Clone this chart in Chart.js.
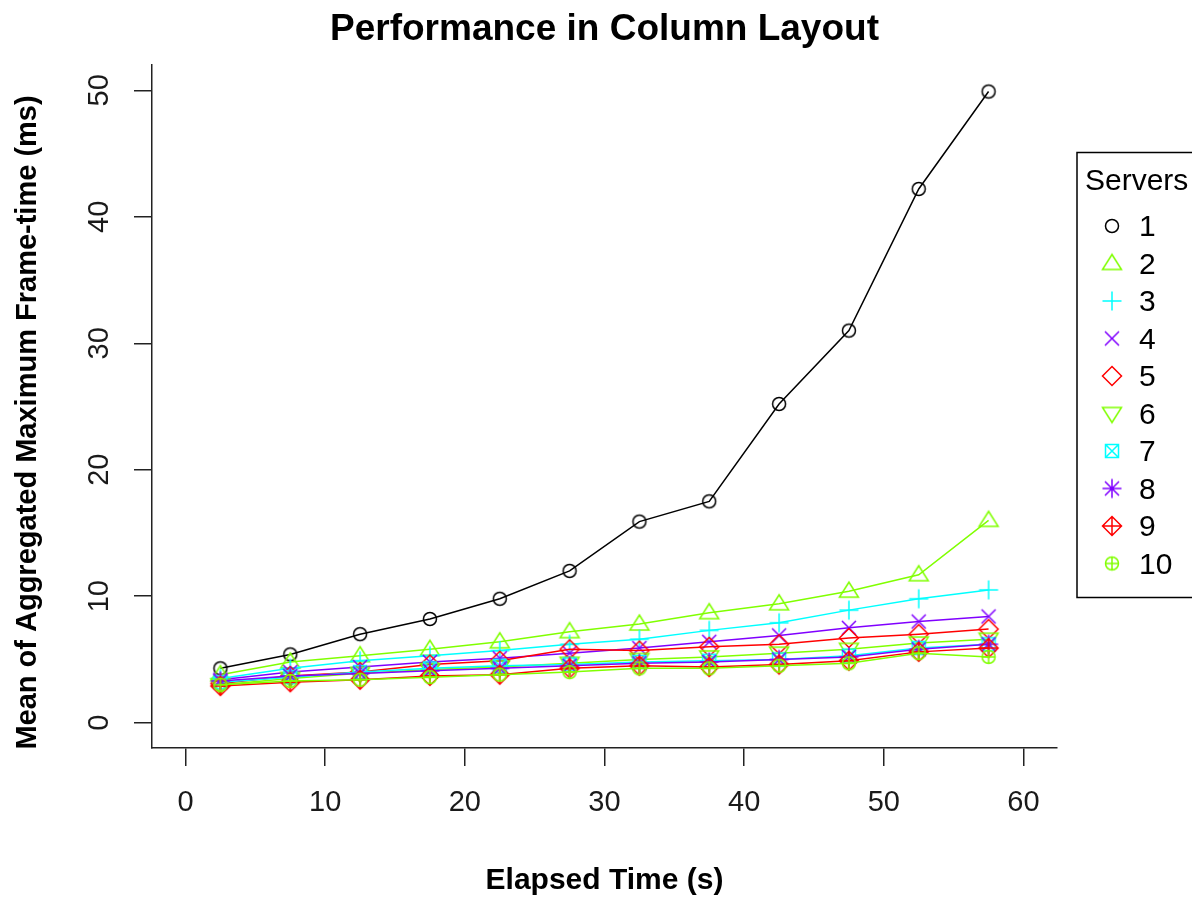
<!DOCTYPE html>
<html>
<head>
<meta charset="utf-8">
<title>Performance in Column Layout</title>
<script src="https://cdn.jsdelivr.net/npm/chart.js@4.4.1/dist/chart.umd.min.js"></script>
<style>
    html, body { margin: 0; padding: 0; background: #fff; }
    #wrap { width: 1192px; height: 898px; }
</style>
</head>
<body>
<div id="wrap"><canvas id="perfChart" width="1192" height="898"></canvas></div>
<script>
// elapsed time (s) of each measurement
const elapsed = [2.5, 7.5, 12.5, 17.5, 22.5, 27.5, 32.5, 37.5, 42.5, 47.5, 52.5, 57.5];
const servers = ['1', '2', '3', '4', '5', '6', '7', '8', '9', '10'];

// mean aggregated max frame-time (ms), one array per server count
const srv1  = [4.3, 5.4, 7.0, 8.2, 9.8, 12.0, 15.9, 17.5, 25.2, 31.0, 42.2, 49.9];
const srv2  = [3.8, 4.8, 5.3, 5.8, 6.4, 7.2, 7.8, 8.7, 9.4, 10.4, 11.7, 16.0];
const srv3  = [3.5, 4.3, 4.9, 5.3, 5.7, 6.2, 6.6, 7.3, 7.9, 8.9, 9.8, 10.5];
const srv4  = [3.4, 4.0, 4.4, 4.8, 5.1, 5.5, 5.9, 6.4, 6.9, 7.5, 8.0, 8.4];
const srv5  = [3.1, 3.7, 4.0, 4.6, 4.9, 5.8, 5.7, 6.0, 6.2, 6.7, 7.0, 7.4];
const srv6  = [3.0, 3.5, 3.9, 4.2, 4.4, 4.7, 5.0, 5.2, 5.5, 5.8, 6.3, 6.6];
const srv7  = [3.2, 3.6, 4.0, 4.3, 4.5, 4.6, 4.8, 4.9, 5.0, 5.3, 5.9, 6.2];
const srv8  = [3.3, 3.7, 3.9, 4.1, 4.3, 4.5, 4.7, 4.8, 5.0, 5.2, 5.8, 6.2];
const srv9  = [2.9, 3.2, 3.4, 3.7, 3.8, 4.3, 4.5, 4.4, 4.6, 4.9, 5.6, 5.9];
const srv10 = [3.0, 3.3, 3.4, 3.6, 3.8, 4.0, 4.3, 4.3, 4.5, 4.7, 5.5, 5.2];
const allSeries = [srv1, srv2, srv3, srv4, srv5, srv6, srv7, srv8, srv9, srv10];

const xTicks = [0, 10, 20, 30, 40, 50, 60];
const yTicks = [0, 10, 20, 30, 40, 50];

const colors = ['#000000', '#80FF00', '#00FFFF', '#8000FF', '#FF0000',
                '#80FF00', '#00FFFF', '#8000FF', '#FF0000', '#80FF00'];
const FONT = '"Liberation Sans", Arial, sans-serif';

// R style plotting symbols (pch 1..10) drawn onto small canvases
function pchSymbol(pch, color) {
    const c = document.createElement('canvas');
    c.width = 26; c.height = 26;
    const g = c.getContext('2d');
    const m = 13;
    g.strokeStyle = color;
    g.lineWidth = 1.5;
    g.beginPath();
    const circle = (r) => { g.moveTo(m + r, m); g.arc(m, m, r, 0, Math.PI * 2); };
    const plus = (r) => { g.moveTo(m - r, m); g.lineTo(m + r, m); g.moveTo(m, m - r); g.lineTo(m, m + r); };
    const cross = (r) => { g.moveTo(m - r, m - r); g.lineTo(m + r, m + r); g.moveTo(m + r, m - r); g.lineTo(m - r, m + r); };
    const diamond = (r) => { g.moveTo(m, m - r); g.lineTo(m + r, m); g.lineTo(m, m + r); g.lineTo(m - r, m); g.closePath(); };
    switch (pch) {
        case 1: circle(6.5); break;
        case 2: g.moveTo(m, m - 9); g.lineTo(m + 9.5, m + 6); g.lineTo(m - 9.5, m + 6); g.closePath(); break;
        case 3: plus(9.5); break;
        case 4: cross(7); break;
        case 5: diamond(9.5); break;
        case 6: g.moveTo(m, m + 9); g.lineTo(m + 9.5, m - 6); g.lineTo(m - 9.5, m - 6); g.closePath(); break;
        case 7: g.rect(m - 6.5, m - 6.5, 13, 13); cross(6.5); break;
        case 8: plus(9.5); cross(7); break;
        case 9: diamond(9.5); plus(9.5); break;
        case 10: circle(6.5); plus(6.5); break;
    }
    g.stroke();
    return c;
}
const symbols = servers.map((s, i) => pchSymbol(i + 1, colors[i]));

// title, axis titles, rotated y labels and the legend box
const rDecor = {
    id: 'rDecor',
    afterDraw(chart) {
        const ctx = chart.ctx;
        const area = chart.chartArea;
        const yScale = chart.scales.y;
        const cx = (area.left + area.right) / 2;
        ctx.save();
        ctx.fillStyle = '#000';
        ctx.textAlign = 'center';
        ctx.textBaseline = 'alphabetic';

        ctx.font = 'bold 37px ' + FONT;
        ctx.fillText('Performance in Column Layout', cx, 40);

        ctx.font = 'bold 30px ' + FONT;
        ctx.fillText('Elapsed Time (s)', cx, 889);

        ctx.font = 'bold 29px ' + FONT;
        ctx.save();
        ctx.translate(36, (area.top + area.bottom) / 2 + 16);
        ctx.rotate(-Math.PI / 2);
        ctx.fillText('Mean of Aggregated Maximum Frame-time (ms)', 0, 0);
        ctx.restore();

        // y tick labels, parallel to the axis like R
        ctx.font = '29px ' + FONT;
        ctx.fillStyle = '#1a1a1a';
        yTicks.forEach(v => {
            ctx.save();
            ctx.translate(108, yScale.getPixelForValue(v));
            ctx.rotate(-Math.PI / 2);
            ctx.fillText(String(v), 0, 0);
            ctx.restore();
        });

        // legend
        ctx.strokeStyle = '#000';
        ctx.lineWidth = 1.5;
        ctx.strokeRect(1077, 152.5, 130, 445);
        ctx.fillStyle = '#000';
        ctx.textAlign = 'left';
        ctx.textBaseline = 'middle';
        ctx.font = '30px ' + FONT;
        ctx.fillText('Servers', 1085, 182);
        servers.forEach((s, i) => {
            const y = 226 + i * 37.5;
            const sym = symbols[i];
            ctx.drawImage(sym, 1112 - sym.width / 2, y - sym.height / 2);
            ctx.fillText(s, 1139, y + 2);
        });
        ctx.restore();
    }
};

const ctx = document.getElementById('perfChart').getContext('2d');
new Chart(ctx, {
    type: 'line',
    data: {
        datasets: allSeries.map((vals, i) => ({
            label: servers[i],
            data: elapsed.map((t, k) => ({ x: t, y: vals[k] })),
            borderColor: colors[i],
            backgroundColor: colors[i],
            borderWidth: 1.5,
            pointStyle: symbols[i],
            pointRadius: 9,
            tension: 0,
            fill: false,
            order: allSeries.length - i,
        }))
    },
    options: {
        responsive: false,
        animation: false,
        devicePixelRatio: 1,
        layout: { padding: { top: 65, right: 135, left: 0, bottom: 0 } },
        plugins: {
            legend: { display: false },
            title: { display: false },
            tooltip: { enabled: false }
        },
        scales: {
            x: {
                type: 'linear',
                min: -2.4,
                max: 62.4,
                afterBuildTicks: (scale) => { scale.ticks = xTicks.map(v => ({ value: v })); },
                afterFit: (scale) => { scale.height = 150; },
                grid: { display: true, drawOnChartArea: false, drawTicks: true, tickLength: 18, color: '#222', lineWidth: 1.5 },
                border: { display: true, color: '#222', width: 1.5 },
                ticks: { font: { family: FONT, size: 29 }, color: '#1a1a1a', padding: 20, maxRotation: 0 }
            },
            y: {
                type: 'linear',
                min: -2,
                max: 52,
                afterBuildTicks: (scale) => { scale.ticks = yTicks.map(v => ({ value: v })); },
                afterFit: (scale) => { scale.width = 152; },
                grid: { display: true, drawOnChartArea: false, drawTicks: true, tickLength: 18, color: '#222', lineWidth: 1.5 },
                border: { display: true, color: '#222', width: 1.5 },
                ticks: { color: 'rgba(0,0,0,0)', font: { family: FONT, size: 29 } }
            }
        }
    },
    plugins: [rDecor]
});
</script>
</body>
</html>
